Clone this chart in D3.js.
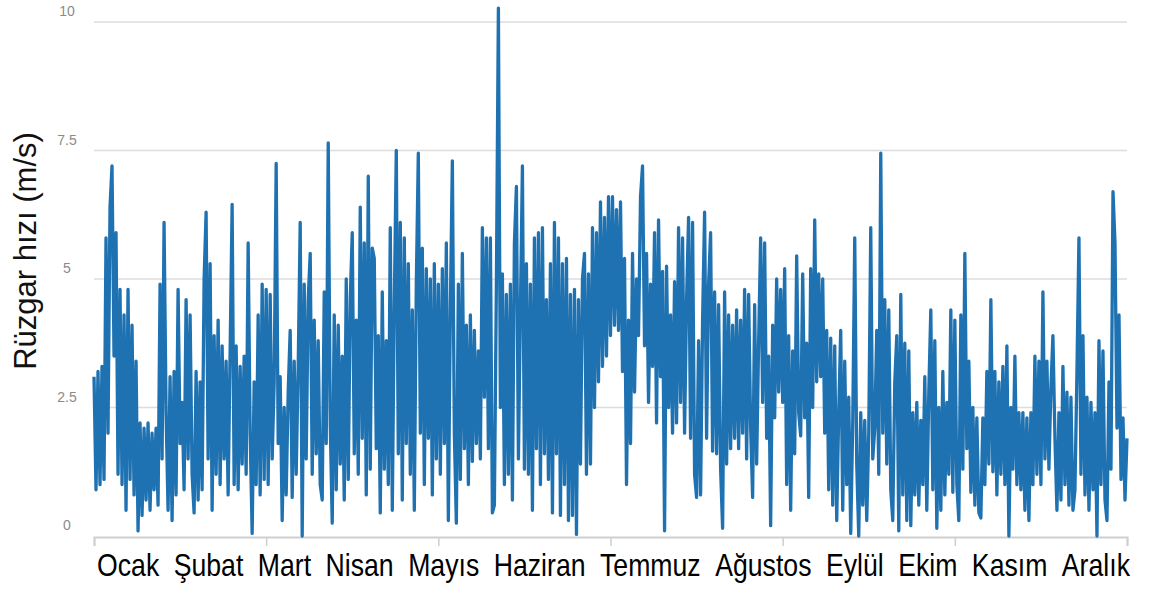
<!DOCTYPE html>
<html>
<head>
<meta charset="utf-8">
<script src="https://cdn.jsdelivr.net/npm/d3@7/dist/d3.min.js"></script>
<style>
  html, body { margin: 0; padding: 0; background: #ffffff; }
  svg { display: block; }
</style>
</head>
<body>
<svg id="chart" width="1155" height="591"></svg>
<script>
// Month names shown under the x axis
const months = ["Ocak", "Şubat", "Mart", "Nisan", "Mayıs", "Haziran",
                "Temmuz", "Ağustos", "Eylül", "Ekim", "Kasım", "Aralık"];

// Y axis ticks (m/s)
const yTicks = [0, 2.5, 5, 7.5, 10];
const yTickLabels = ["0", "2.5", "5", "7.5", "10"];
const yTitle = "Rüzgar hızı (m/s)";

// Wind speed readings, month by month (m/s)
const windOcak = [3.1,0.9,3.2,1.0,3.3,1.1,5.8,2.0,6.4,7.2,3.5,5.9,1.2,4.8,1.0,4.3,0.5,4.8,1.1,4.1,0.8,3.4,0.1,2.2,0.4,2.1,0.7,2.2,0.5,2.0,0.9,2.1,0.6,4.9,1.5,6.1,2.4,0.5,3.1,0.3,3.2,0.8,4.8];
const windSubat = [1.8,2.6,0.9,4.6,1.5,4.3,1.2,0.45,3.2,0.7,3.0,0.9,5.0,6.3,1.5,5.3,0.5,3.9,1.2,4.2,1.0,3.7,1.5,3.4,0.8,3.6,6.45,1.0,3.7,0.9,3.3,1.4,3.5,1.2,5.7,2.0,0.05,3.0,1.0,4.3,0.8,4.9,1.1];
const windMart = [4.8,1.0,4.7,1.5,3.0,7.25,1.8,3.1,0.3,2.5,0.8,2.8,4.0,0.75,3.4,1.2,3.3,6.1,0.0,4.9,1.5,4.6,5.5,1.2,4.2,1.6,3.8,1.0,0.7,4.75,1.8,7.65,2.2,0.25,4.3,0.9,4.1,1.4,3.5,0.7,5.0,1.1,4.6];
const windNisan = [5.9,1.6,4.2,1.2,6.4,1.9,5.7,0.8,7.0,1.3,5.6,5.4,1.7,3.9,0.45,4.75,1.3,3.8,1.0,6.0,0.5,4.5,7.5,1.6,6.1,0.7,5.8,1.8,5.3,1.2,4.4,0.5,4.9,7.45,2.0,5.6,1.0,5.2,1.9,5.0,0.8,5.3,1.5];
const windMayis = [4.9,1.2,5.2,1.8,5.7,0.3,4.4,7.3,2.0,0.25,4.9,1.1,5.5,1.7,4.1,1.0,4.3,1.45,4.0,1.8,3.6,1.5,6.0,2.7,5.8,1.7,5.8,0.45,0.6,4.9,10.27,2.5,5.1,1.0,4.7,1.2,4.9,0.7,5.7,6.8,1.5,4.4,7.2];
const windHaziran = [1.3,5.3,1.2,4.9,0.5,5.8,1.7,5.9,1.0,6.0,1.6,4.6,1.1,5.3,0.45,6.1,1.6,5.8,0.4,5.3,1.0,5.4,0.3,4.7,0.4,4.8,0.03,4.6,1.4,5.0,5.5,1.2,5.1,1.4,6.0,2.5,5.9,3.0,6.5,3.3,6.2,3.5,6.6];
const windTemmuz = [3.9,6.6,4.1,6.35,4.0,6.5,3.2,5.4,1.0,4.2,1.8,5.5,2.8,5.0,3.9,6.6,7.2,3.7,5.5,2.6,4.9,3.3,5.9,2.2,6.15,3.1,5.15,0.1,5.25,2.5,4.3,2.0,4.95,2.2,6.0,2.6,5.8,2.0,4.6,6.2,1.9,6.1,1.2];
const windAgustos = [0.75,3.8,0.8,4.2,6.3,1.9,4.9,5.9,1.65,4.75,1.6,4.5,1.3,0.15,4.75,1.4,4.3,1.7,4.1,1.9,4.4,1.7,4.2,2.0,4.8,1.5,4.7,2.1,0.75,4.5,1.4,3.8,5.8,2.6,5.7,1.9,3.5,0.2,4.1,2.3,5.0,2.8,4.8];
const windEylul = [2.6,5.2,1.0,3.9,0.5,3.6,1.6,5.45,2.4,1.95,5.1,2.3,3.75,0.75,5.2,2.5,6.15,3.0,5.1,3.1,5.0,2.0,4.0,0.9,3.85,0.6,3.7,0.3,2.4,4.0,0.5,3.4,1.0,2.7,0.05,2.2,5.8,1.4,0.0,2.4,0.6,2.25,0.3];
const windEkim = [2.0,6.0,1.5,2.1,4.0,1.2,7.45,2.0,4.6,1.4,4.4,0.9,0.3,3.0,3.9,0.1,4.7,0.8,3.75,0.3,3.6,0.2,2.4,0.8,2.6,0.6,2.25,1.0,3.1,0.5,2.8,4.4,0.9,3.8,0.15,2.5,0.5,3.2,0.8,2.6,1.2,4.4,0.85];
const windKasim = [4.2,1.0,0.3,4.3,1.3,5.5,1.7,3.4,0.85,2.5,0.6,2.3,0.45,0.35,2.3,1.0,3.2,1.4,4.6,1.25,3.2,0.8,3.0,1.2,3.3,1.0,3.7,0.0,2.5,1.3,3.5,1.0,2.4,0.9,2.4,0.5,2.3,0.3,2.4,1.0,3.5,1.2,3.4];
const windAralik = [1.0,4.75,1.5,3.4,1.3,2.9,3.9,1.9,0.5,2.4,0.7,3.3,1.0,2.8,0.6,2.7,0.5,0.9,3.2,5.8,1.2,3.9,0.8,2.7,0.5,2.6,0.9,2.4,0.0,3.8,1.0,3.6,0.7,0.3,3.0,1.3,6.7,5.7,2.1,4.3,1.1,2.3,0.7,1.9];

const wind = [].concat(windOcak, windSubat, windMart, windNisan, windMayis, windHaziran,
                       windTemmuz, windAgustos, windEylul, windEkim, windKasim, windAralik);

const svg = d3.select("#chart");
const margin = { left: 94, right: 28, top: 22, bottom: 55 };
const W = +svg.attr("width"), H = +svg.attr("height");
const x0 = margin.left, x1 = W - margin.right;
const yBottom = H - margin.bottom;

const x = d3.scaleLinear().domain([0, wind.length - 1]).range([x0, x1]);
const xMonth = d3.scaleLinear().domain([0, 12]).range([x0, x1]);
const y = d3.scaleLinear().domain([0, 10]).range([yBottom, margin.top]);

// horizontal gridlines
svg.append("g")
  .selectAll("line")
  .data(yTicks.filter(v => v > 0))
  .join("line")
  .attr("x1", x0).attr("x2", x1)
  .attr("y1", d => y(d)).attr("y2", d => y(d))
  .attr("stroke", "#dcdcdc")
  .attr("stroke-width", 1.6);

// y tick labels, sitting just above each gridline
svg.append("g")
  .selectAll("text")
  .data(yTicks)
  .join("text")
  .attr("x", 67)
  .attr("y", d => y(d) - 6)
  .attr("text-anchor", "middle")
  .attr("font-family", "'Liberation Sans', Arial, sans-serif")
  .attr("font-size", 14)
  .attr("fill", "#8a8a8a")
  .text((d, i) => yTickLabels[i]);

// x axis baseline with a tick every two months
const xAxis = d3.axisBottom(xMonth)
  .tickValues([0, 2, 4, 6, 8, 10, 12])
  .tickSize(9)
  .tickFormat("");
const gx = svg.append("g")
  .attr("transform", `translate(0,${yBottom + 1})`)
  .call(xAxis);
gx.select(".domain").attr("stroke", "#cfcfcf").attr("stroke-width", 2);
gx.selectAll(".tick line").attr("stroke", "#cfcfcf").attr("stroke-width", 1.5);

// wind speed line
const line = d3.line()
  .x((d, i) => x(i))
  .y(d => y(d));

svg.append("path")
  .datum(wind)
  .attr("d", line)
  .attr("fill", "none")
  .attr("stroke", "#1f72b2")
  .attr("stroke-width", 3.3)
  .attr("stroke-linejoin", "round");

// y axis title
svg.append("text")
  .attr("transform", `translate(36, ${(margin.top + yBottom) / 2 - 28}) rotate(-90)`)
  .attr("text-anchor", "middle")
  .attr("font-family", "'Liberation Sans', Arial, sans-serif")
  .attr("font-size", 31)
  .attr("fill", "#111")
  .text(yTitle);

// month names, condensed and spread evenly across the width
const squeeze = 0.86;
const labelG = svg.append("g")
  .attr("font-family", "'Liberation Sans', Arial, sans-serif")
  .attr("font-size", 31)
  .attr("fill", "#000");
const labels = labelG.selectAll("text")
  .data(months)
  .join("text")
  .text(d => d);
const widths = [];
labels.each(function () { widths.push(this.getComputedTextLength() * squeeze); });
const rowStart = x0 + 3, rowEnd = x1 + 3;
const gap = (rowEnd - rowStart - d3.sum(widths)) / (months.length - 1);
let cursor = rowStart;
labels.each(function (d, i) {
  d3.select(this).attr("transform", `translate(${cursor},576) scale(${squeeze},1)`);
  cursor += widths[i] + gap;
});
</script>
</body>
</html>
